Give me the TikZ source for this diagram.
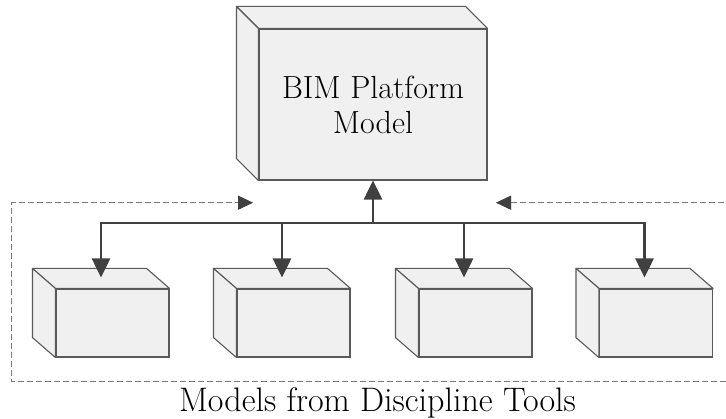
\documentclass[tikz,border=0pt]{standalone}
\usetikzlibrary{arrows.meta,calc}

\definecolor{boxfill}{HTML}{F0F0F0}
\definecolor{boxline}{HTML}{5A5A5A}
\definecolor{linkcol}{HTML}{404040}
\definecolor{dashdark}{HTML}{7A7A7A}
\definecolor{dashlight}{HTML}{D2D2D2}
\definecolor{tiplight}{HTML}{C4C4C4}

\tikzset{
  frontface/.style={draw=boxline, fill=boxfill, line width=1.1pt, inner sep=0pt},
  smallfront/.style={frontface, minimum width=113pt, minimum height=68pt},
  face/.style={draw=boxline, fill=boxfill, line width=1.1pt, line join=round},
  link/.style={draw=linkcol, line width=2.8pt,
    -{Triangle[length=19pt,width=18pt]}},
  loopdark/.style={draw=dashdark, line width=1pt, dash pattern=on 6pt off 3pt,
    {Triangle[length=15pt,width=14pt,color=linkcol]}-{Triangle[length=15pt,width=14pt,color=linkcol]}},
  looplight/.style={draw=dashlight, line width=1pt, dash pattern=on 6pt off 3pt,
    {Triangle[length=15pt,width=14pt,color=tiplight]}-{Triangle[length=15pt,width=14pt,color=tiplight]}},
  bigtext/.style={font=\fontsize{32}{35}\selectfont, align=center},
  captiontext/.style={font=\fontsize{34}{40}\selectfont},
}

% top and side faces of a cuboid whose front face is node #1, seen with depth (#2,#3)
\newcommand\cuboidfaces[3]{%
  \path[face] (#1.north west) -- ++(#2,#3) -- ($(#1.north east)+(#2,#3)$)
    -- (#1.north east) -- cycle;
  \path[face] (#1.north west) -- ++(#2,#3) -- ($(#1.south west)+(#2,#3)$)
    -- (#1.south west) -- cycle;
}

\begin{document}
\begin{tikzpicture}[x=1pt,y=1pt]
  \useasboundingbox (0,0) rectangle (726,418);

  % dashed feedback loop (shadow first, then the dark line)
  \coordinate (rtip) at (496,215.3);
  \coordinate (ltip) at (253,215.3);
  \coordinate (tr) at (740,215.3);
  \coordinate (br) at (740,36);
  \coordinate (bl) at (11.7,36);
  \coordinate (tl) at (11.7,215.3);
  \begin{scope}[shift={(3,-2.5)}]
    \draw[looplight] (rtip) -- (tr) -- (br) -- (bl) -- (tl) -- (ltip);
  \end{scope}
  \draw[loopdark] (rtip) -- (tr) -- (br) -- (bl) -- (tl) -- (ltip);

  % platform model
  \node[frontface, minimum width=228pt, minimum height=151pt, bigtext]
    (big) at (373,313.5) {BIM Platform\\Model};
  \cuboidfaces{big}{-22}{22}

  % discipline models
  \node[smallfront] (m1) at (112.5,95) {};
  \node[smallfront] (m2) at (293.5,95) {};
  \node[smallfront] (m3) at (475.5,95) {};
  \node[smallfront] (m4) at (656,95) {};
  \foreach \m in {m1,m2,m3,m4} {
    \cuboidfaces{\m}{-23}{20}
    \coordinate (\m top) at ($(\m.north)+(-11.5,11)$);
  }

  % distribution links
  \coordinate (hub) at (373,195);
  \foreach \m in {m1,m2,m3,m4} {
    \draw[link] (hub) -| (\m top);
  }
  \draw[link] (hub) -- (big.south);

  \node[captiontext, anchor=base, inner sep=0pt] (caption) at (377.5,7) {Models from Discipline Tools};
\end{tikzpicture}
\end{document}
